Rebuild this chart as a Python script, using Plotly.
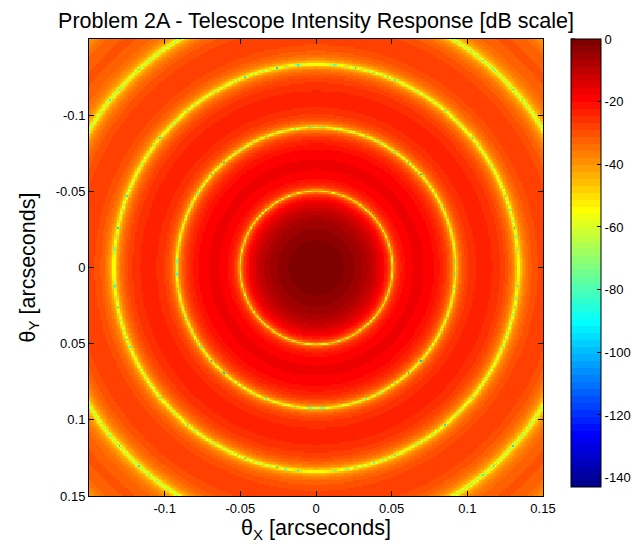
import numpy as np
import plotly.graph_objects as go

# ---- values ----
first_null_arcsec = 0.0503          # radius of the first dark ring
airy_first_zero = 3.8317            # first zero of J1
n_grid = 301
axis_min, axis_max = -0.15, 0.15
axis_tickvals = [-0.1, -0.05, 0, 0.05, 0.1, 0.15]
axis_ticktext = ["-0.1", "-0.05", "0", "0.05", "0.1", "0.15"]
cbar_tickvals = [0, -20, -40, -60, -80, -100, -120, -140]
cbar_ticktext = ["0", "-20", "-40", "-60", "-80", "-100", "-120", "-140"]
z_min, z_max = -143.0, 0.0

title_text = "Problem 2A - Telescope Intensity Response [dB scale]"
x_title = "θ<sub>X</sub> [arcseconds]"
y_title = "θ<sub>Y</sub> [arcseconds]"

# ---- Airy intensity pattern on the grid ----
theta_x = np.linspace(axis_min, axis_max, n_grid)
theta_y = np.linspace(axis_min, axis_max, n_grid)
TX, TY = np.meshgrid(theta_x, theta_y)
R = np.sqrt(TX ** 2 + TY ** 2)
u = airy_first_zero * R / first_null_arcsec

tau = np.linspace(0, 2 * np.pi, 160, endpoint=False)
J1 = np.zeros_like(u)
for t in tau:
    J1 += np.cos(t - u * np.sin(t))
J1 /= len(tau)
with np.errstate(divide="ignore", invalid="ignore"):
    amp = np.where(u > 1e-12, 2 * J1 / u, 1.0)
I = amp ** 2
dB = 10 * np.log10(np.maximum(I, 1e-30))
dB = np.round(dB, 2)

# ---- MATLAB jet(64) discrete colormap ----
def jet(m=64):
    n = int(np.ceil(m / 4))
    uu = np.concatenate([np.arange(1, n + 1) / n, np.ones(n - 1), np.arange(n, 0, -1) / n])
    g = int(np.ceil(n / 2)) - (1 if m % 4 == 1 else 0) + np.arange(1, len(uu) + 1)
    r = g + n
    b = g - n
    J = np.zeros((m, 3))
    for idx, val in zip(r, uu):
        if 1 <= idx <= m:
            J[idx - 1, 0] = val
    for idx, val in zip(g, uu):
        if 1 <= idx <= m:
            J[idx - 1, 1] = val
    for idx, val in zip(b, uu):
        if 1 <= idx <= m:
            J[idx - 1, 2] = val
    return J

cmap = jet(64)
colorscale = []
for i, c in enumerate(cmap):
    col = "rgb(%d,%d,%d)" % tuple(int(round(v * 255)) for v in c)
    colorscale.append([i / 64, col])
    colorscale.append([(i + 1) / 64, col])

W, H = 633, 546
ml, mr, mt, mb = 89, 90, 39, 50
plot_w = W - ml - mr
plot_h = H - mt - mb
cb_left_px = 571
cb_thick = 30
cb_len = 448
cb_x = (cb_left_px - ml) / plot_w

FONT = "Liberation Sans, Arial, sans-serif"

fig = go.Figure()
fig.add_trace(go.Heatmap(
    x=theta_x, y=theta_y, z=dB,
    colorscale=colorscale, zmin=z_min, zmax=z_max, zsmooth=False,
    hoverinfo="skip",
    colorbar=dict(
        x=cb_x, xanchor="left", xpad=0, y=1, yanchor="top", ypad=0,
        thickness=cb_thick, thicknessmode="pixels",
        len=cb_len, lenmode="pixels",
        outlinecolor="black", outlinewidth=1,
        tickvals=cbar_tickvals, ticktext=cbar_ticktext,
        ticks="inside", ticklen=4, tickcolor="black",
        tickfont=dict(family=FONT, size=13, color="black"),
    ),
))

# left-side colorbar ticks (MATLAB style)
shapes = []
for v in cbar_tickvals:
    frac = (v - z_min) / (z_max - z_min)
    y_px_from_bottom_of_plot = (plot_h - cb_len) + frac * cb_len
    yp = y_px_from_bottom_of_plot / plot_h
    shapes.append(dict(type="line", xref="paper", yref="paper",
                       x0=cb_x, x1=cb_x + 4 / plot_w, y0=yp, y1=yp,
                       line=dict(color="black", width=1)))

axis_common = dict(
    tickvals=axis_tickvals, ticktext=axis_ticktext,
    ticks="inside", ticklen=5, tickcolor="black",
    showline=True, linecolor="black", linewidth=1, mirror="ticks",
    showgrid=False, zeroline=False,
    tickfont=dict(family=FONT, size=13, color="black"),
)

fig.update_layout(
    width=W, height=H,
    margin=dict(l=ml, r=mr, t=mt, b=mb, autoexpand=False),
    paper_bgcolor="white", plot_bgcolor="white",
    font=dict(family=FONT, color="black"),
    title=dict(text=title_text, x=0.5, xanchor="center", xref="paper",
               y=1 - 20 / H, yref="container", yanchor="middle",
               font=dict(size=21.5, color="black")),
    xaxis=dict(range=[axis_min, axis_max],
               title=dict(text=x_title, font=dict(size=21.5), standoff=5),
               **axis_common),
    yaxis=dict(range=[axis_max, axis_min],
               title=dict(text=y_title, font=dict(size=21.5), standoff=14),
               **axis_common),
    shapes=shapes,
)

fig.write_html("out.html")
